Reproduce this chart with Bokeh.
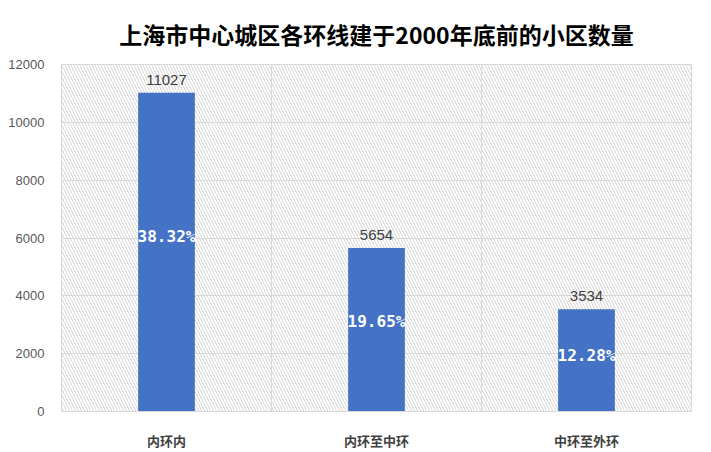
from bokeh.plotting import figure
from bokeh.models import ColumnDataSource, FixedTicker, Grid, BoxAnnotation, LabelSet, Title
from bokeh.core.properties import value
from bokeh.embed import file_html
from bokeh.resources import INLINE

title_text = "上海市中心城区各环线建于2000年底前的小区数量"
categories = ["内环内", "内环至中环", "中环至外环"]
counts = [11027, 5654, 3534]
shares = ["38.32%", "19.65%", "12.28%"]
y_ticks = [0, 2000, 4000, 6000, 8000, 10000, 12000]

xs = [i + 0.5 for i in range(len(categories))]
src = ColumnDataSource(dict(
    x=xs, top=counts, share=shares,
    cnt=[str(c) for c in counts],
    mid=[c * 0.55 for c in counts],
))

p = figure(output_backend="svg", toolbar_location=None,
           x_range=(0, 3), y_range=(0, 12000),
           frame_width=630, frame_height=347,
           min_border_left=61, min_border_right=8, min_border_top=10, min_border_bottom=34)

p.title = Title(text=title_text, align="center",
                text_font="Noto Sans CJK SC", text_font_size="23px", text_font_style="bold",
                text_color="#000000", offset=-22, standoff=28)

p.outline_line_color = "#d9d9d9"
p.border_fill_color = "white"
p.background_fill_color = "white"

bg = BoxAnnotation(left=0, right=3, bottom=0, top=12000, fill_alpha=0, line_alpha=0,
                   hatch_pattern="\\", hatch_color="#d6d6d6", hatch_scale=6, hatch_weight=1,
                   level="image")
p.add_layout(bg)

p.xgrid.visible = False
p.ygrid.ticker = FixedTicker(ticks=y_ticks)
p.ygrid.grid_line_color = "#d9d9d9"
vg = Grid(dimension=0, ticker=FixedTicker(ticks=[1, 2]), grid_line_color="#d9d9d9")
p.add_layout(vg)

p.vbar(x="x", top="top", width=0.27, bottom=0, source=src, fill_color="#4472c4", line_color=None)

p.yaxis.ticker = FixedTicker(ticks=y_ticks)
p.yaxis.axis_line_color = None
p.yaxis.major_tick_line_color = None
p.yaxis.minor_tick_line_color = None
p.yaxis.major_label_text_font = "Liberation Sans"
p.yaxis.major_label_text_font_size = "13px"
p.yaxis.major_label_text_color = "#595959"
p.yaxis.major_label_standoff = 11

p.xaxis.ticker = FixedTicker(ticks=xs)
p.xaxis.major_label_overrides = {x: c for x, c in zip(xs, categories)}
p.xaxis.axis_line_color = "#d9d9d9"
p.xaxis.major_tick_line_color = None
p.xaxis.minor_tick_line_color = None
p.xaxis.major_label_text_font = "Noto Sans CJK SC"
p.xaxis.major_label_text_font_style = "bold"
p.xaxis.major_label_text_font_size = "13px"
p.xaxis.major_label_text_color = "#404040"
p.xaxis.major_label_standoff = 13

vals = LabelSet(x="x", y="top", text="cnt", source=src, text_align="center",
                text_baseline="bottom", y_offset=8, text_font=value("Liberation Sans"),
                text_font_size=value("15px"), text_color="#404040")
p.add_layout(vals)
pct = LabelSet(x="x", y="mid", text="share", source=src, text_align="center",
               text_baseline="middle", text_font=value("DejaVu Sans Mono"), text_font_style="bold",
               text_font_size=value("16px"), text_color="white")
p.add_layout(pct)

open("out.html", "w").write(file_html(p, INLINE))
